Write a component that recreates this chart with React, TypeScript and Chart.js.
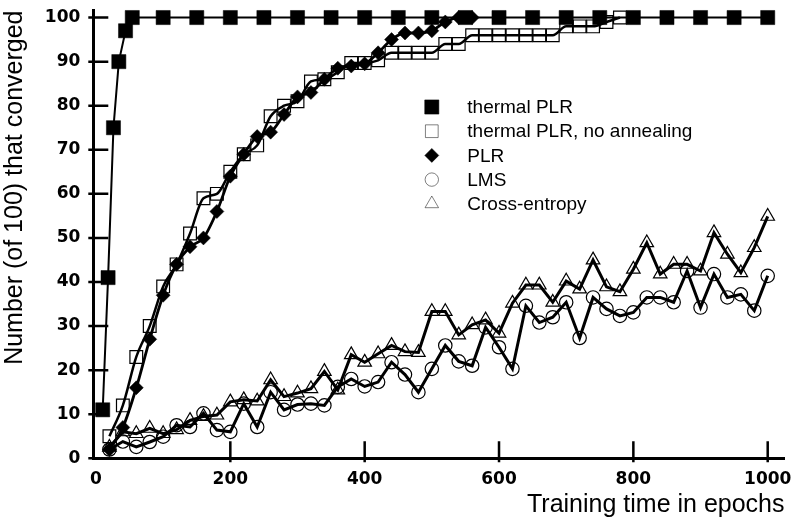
import React, { useEffect, useRef } from 'react';
import { Chart, registerables } from 'chart.js';
import { drawPoint } from 'chart.js/helpers';

Chart.register(...registerables);

const xTicks = [0, 200, 400, 600, 800, 1000];
const yTicks = [0, 10, 20, 30, 40, 50, 60, 70, 80, 90, 100];

const thermalX = [10, 18, 26, 34, 44, 54, 100, 150, 200, 250, 300, 350, 400, 450, 500, 550, 600, 650, 700, 750, 800, 850, 900, 950, 1000];
const thermalY = [11, 41, 75, 90, 97, 100, 100, 100, 100, 100, 100, 100, 100, 100, 100, 100, 100, 100, 100, 100, 100, 100, 100, 100, 100];

const noAnnealX = [20, 40, 60, 80, 100, 120, 140, 160, 180, 200, 220, 240, 260, 280, 300, 320, 340, 360, 380, 400, 420, 440, 460, 480, 500, 520, 540, 560, 580, 600, 620, 640, 660, 680, 700, 720, 740, 760, 780];
const noAnnealY = [5, 12, 23, 30, 39, 44, 51, 59, 60, 65, 69, 71, 77.6, 80, 81, 85.5, 86, 87.6, 89.7, 89.7, 90.3, 92, 92, 92, 92, 94, 94, 96, 96, 96, 96, 96, 96, 96, 98, 98, 98, 99, 100];

const plrX = [20, 40, 60, 80, 100, 120, 140, 160, 180, 200, 220, 240, 260, 280, 300, 320, 340, 360, 380, 400, 420, 440, 460, 480, 500, 520, 540, 560];
const plrY = [2, 7, 16, 27, 37, 44, 48, 50, 56, 64, 69, 73, 74, 78, 82, 83, 86, 88.5, 89, 89.5, 92, 95, 96.5, 96.5, 97, 99, 100, 100];

const epochs = [20, 40, 60, 80, 100, 120, 140, 160, 180, 200, 220, 240, 260, 280, 300, 320, 340, 360, 380, 400, 420, 440, 460, 480, 500, 520, 540, 560, 580, 600, 620, 640, 660, 680, 700, 720, 740, 760, 780, 800, 820, 840, 860, 880, 900, 920, 940, 960, 980, 1000];
const lmsY = [2, 3.8, 2.6, 3.7, 4.9, 7.5, 7.1, 10.2, 6.4, 6, 12.4, 7.1, 15, 11, 12.2, 12.4, 12, 16.2, 18, 16.3, 17.3, 21.8, 19, 15, 20.3, 25.6, 22, 21, 29.7, 25.2, 20.3, 34.6, 30.8, 32, 35.4, 27.3, 36.5, 33.9, 32.3, 33.1, 36.5, 36.5, 35.4, 42.5, 34.2, 41.8, 36.5, 37.2, 33.5, 41.4];
const ceY = [2.5, 6, 5.6, 6.8, 5.6, 6.5, 8.6, 9.5, 9.8, 12.8, 13.3, 13, 17.8, 14, 14.8, 15.8, 19.7, 15.5, 23.5, 21.8, 23.7, 25.6, 24.2, 24, 33.3, 33.3, 28, 30.3, 31.4, 28.4, 35.2, 39.3, 39.3, 35.4, 40.2, 38.4, 45, 38.9, 37.8, 42.9, 48.9, 41.8, 44, 44, 42.5, 51.2, 46.3, 42.1, 47.8, 54.9];

const labels = ['thermal PLR', 'thermal PLR, no annealing', 'PLR', 'LMS', 'Cross-entropy'];

const pts = (xs: number[], ys: number[]) => xs.map((x, i) => ({ x, y: ys[i] }));

const noPad = (s: any) => {
  s.paddingTop = 0;
  s.paddingBottom = 0;
  s.paddingLeft = 0;
  s.paddingRight = 0;
};

const inTicks = {
  id: 'inTicks',
  beforeDatasetsDraw(chart: any) {
    const { ctx } = chart;
    const xs = chart.scales.x;
    const ys = chart.scales.y;
    const y0 = ys.getPixelForValue(0);
    const x0 = xs.left;
    ctx.save();
    ctx.strokeStyle = '#000';
    ctx.lineWidth = 2.5;
    ctx.beginPath();
    yTicks.forEach((v) => {
      const py = ys.getPixelForValue(v);
      ctx.moveTo(x0 - 5, py);
      ctx.lineTo(x0 + 15, py);
    });
    xTicks.forEach((v) => {
      if (v === 0) return;
      const px = xs.getPixelForValue(v);
      ctx.moveTo(px, y0 + 4);
      ctx.lineTo(px, y0 - 17);
    });
    ctx.stroke();
    ctx.restore();
  },
};

const legendPlugin = {
  id: 'customLegend',
  afterDatasetsDraw(chart: any) {
    const { ctx, chartArea } = chart;
    const mx = chartArea.left + 338.5;
    const tx = chartArea.left + 374;
    const y0 = chartArea.top + 96.5;
    const dy = 24.2;
    ctx.save();
    chart.data.datasets.forEach((ds: any, i: number) => {
      const y = y0 + i * dy;
      ctx.fillStyle = ds.pointBackgroundColor;
      ctx.strokeStyle = ds.pointBorderColor;
      drawPoint(ctx, { pointStyle: ds.pointStyle, rotation: 0, radius: ds.pointRadius, borderWidth: ds.pointBorderWidth }, mx, y);
      ctx.fillStyle = '#000';
      ctx.font = '19px "Liberation Sans", Arial, sans-serif';
      ctx.textBaseline = 'middle';
      ctx.textAlign = 'left';
      ctx.fillText(ds.label, tx, y + 1);
    });
    ctx.restore();
  },
};

export default function App() {
  const ref = useRef<HTMLCanvasElement | null>(null);
  useEffect(() => {
    if (!ref.current) return;
    const line = (label: string, data: any, style: string, radius: number, filled: boolean, smooth: boolean, lw: number) => ({
      label,
      data,
      borderColor: '#000',
      borderWidth: lw,
      backgroundColor: 'rgba(0,0,0,0)',
      pointStyle: style,
      pointRadius: radius,
      pointHoverRadius: radius,
      pointBackgroundColor: filled ? '#000' : 'rgba(255,255,255,0)',
      pointBorderColor: '#000',
      pointBorderWidth: filled ? 0.5 : 1.2,
      tension: 0,
      cubicInterpolationMode: smooth ? 'monotone' : 'default',
      fill: false,
      clip: false,
    });
    const tickFont = { family: '"DejaVu Sans", sans-serif', weight: 'bold', size: 17 };
    const titleFont = { family: '"Liberation Sans", Arial, sans-serif', size: 25 };
    const chart = new Chart(ref.current, {
      type: 'line',
      data: {
        datasets: [
          line(labels[0], pts(thermalX, thermalY), 'rect', 10, true, false, 2),
          line(labels[1], pts(noAnnealX, noAnnealY), 'rect', 9, false, true, 2.5),
          line(labels[2], pts(plrX, plrY), 'rectRot', 7, true, true, 2.8),
          line(labels[3], pts(epochs, lmsY), 'circle', 6.7, false, false, 3),
          line(labels[4], pts(epochs, ceY), 'triangle', 7.8, false, false, 3),
        ] as any,
      },
      options: {
        animation: false,
        responsive: false,
        layout: { padding: { top: 8.7, right: 9, left: 0, bottom: 0 } },
        plugins: { legend: { display: false }, tooltip: { enabled: false } },
        scales: {
          x: {
            type: 'linear',
            min: -4,
            max: 1025,
            afterBuildTicks: (s: any) => { s.ticks = xTicks.map((v) => ({ value: v })); },
            afterFit: (s: any) => { s.height = 64.7; noPad(s); },
            grid: { display: false },
            border: { display: true, width: 3, color: '#000' },
            ticks: { color: '#000', font: tickFont, padding: 3, maxRotation: 0, callback: (v: any) => String(v) },
            title: { display: true, text: 'Training time in epochs', align: 'end', color: '#000', font: titleFont, padding: { top: 0, bottom: 3 } },
          },
          y: {
            type: 'linear',
            min: 0,
            max: 101.6,
            afterBuildTicks: (s: any) => { s.ticks = yTicks.map((v) => ({ value: v })); },
            afterFit: (s: any) => { s.width = 93.3; noPad(s); },
            grid: { display: false },
            border: { display: true, width: 3, color: '#000' },
            ticks: { color: '#000', font: tickFont, padding: 5, callback: (v: any) => String(v) },
            title: { display: true, text: 'Number (of 100) that converged', align: 'end', color: '#000', font: titleFont, padding: { top: 0, bottom: 0 } },
          },
        },
      } as any,
      plugins: [inTicks, legendPlugin],
    });
    return () => chart.destroy();
  }, []);
  return (
    <div style={{ position: 'fixed', left: 0, top: 0, width: 795, height: 523, background: '#fff' }}>
      <canvas ref={ref} width={795} height={523} />
    </div>
  );
}
